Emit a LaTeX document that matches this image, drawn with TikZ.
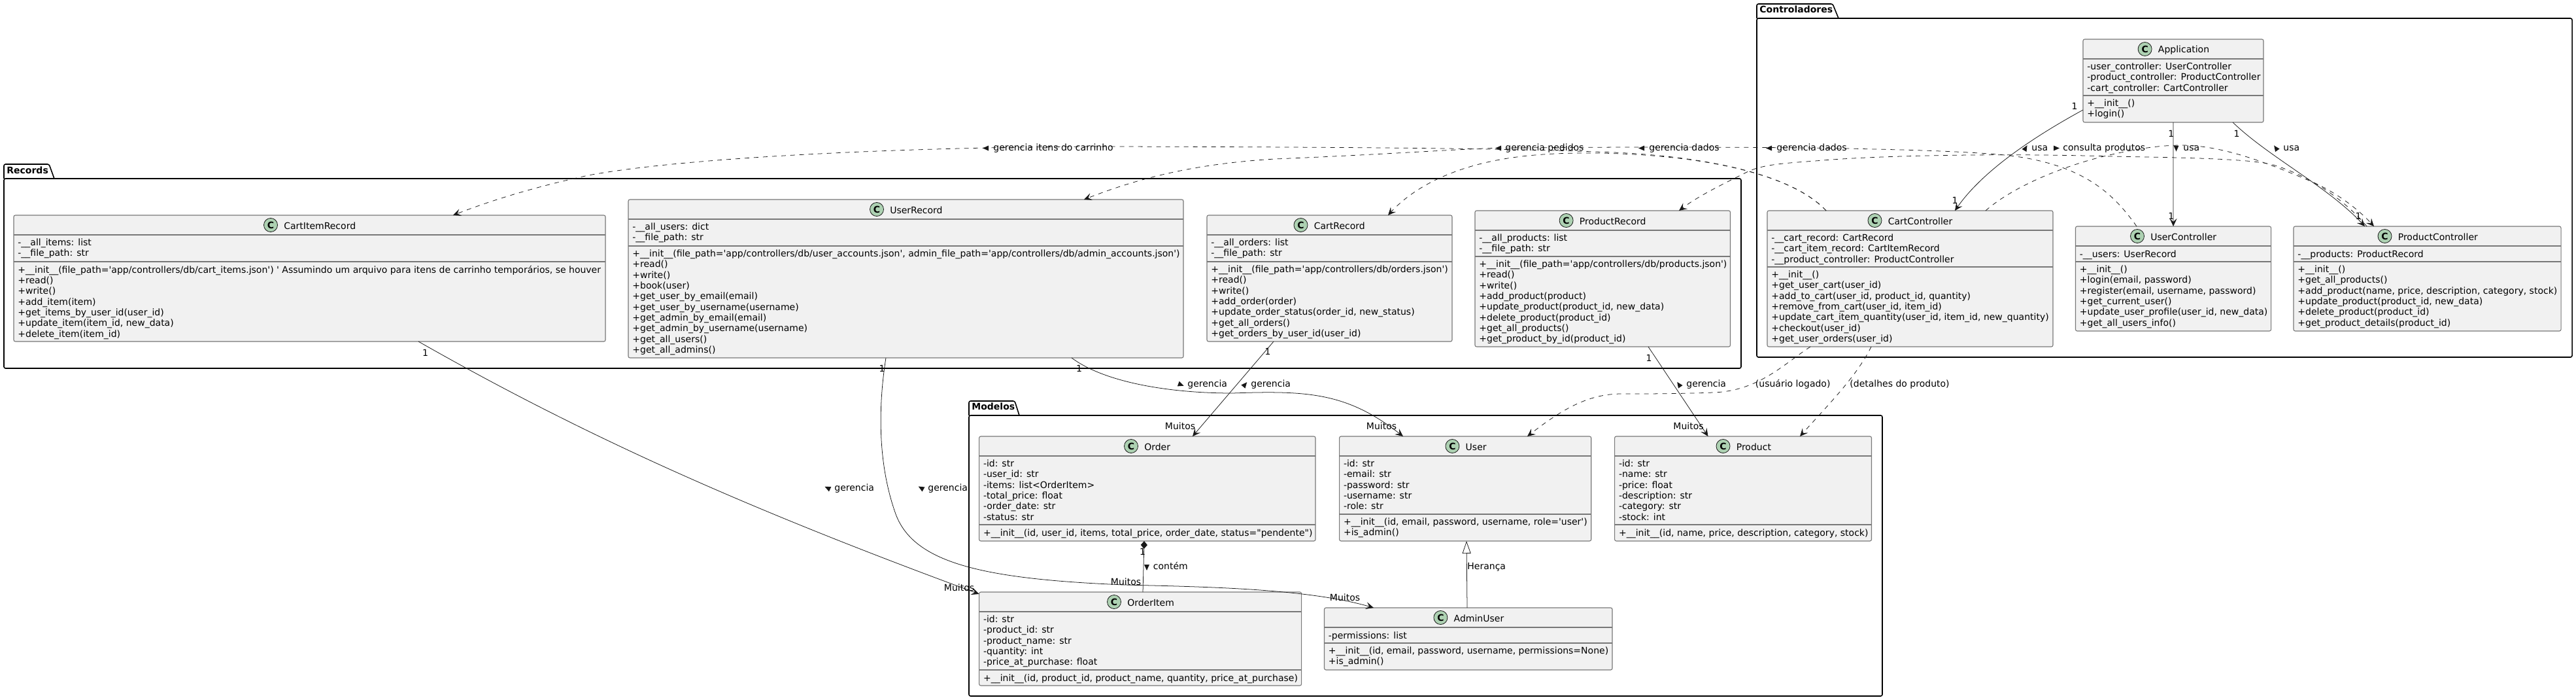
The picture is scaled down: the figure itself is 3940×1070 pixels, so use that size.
\documentclass[tikz,border=0pt]{standalone}
\usepackage{fontspec}
\usepackage{tikz}
\usetikzlibrary{arrows.meta, positioning, fit}
\newfontfamily\umlfont{DejaVu Sans}
\newcommand{\umltext}{\umlfont\fontsize{7}{8.15}\selectfont}
\newcommand{\umlbold}{\umlfont\bfseries\fontsize{7}{8.15}\selectfont}
\definecolor{classfill}{RGB}{241, 241, 241}
\definecolor{classborder}{RGB}{120, 120, 120}
\definecolor{circlefill}{RGB}{173, 209, 178}
\definecolor{edgecolor}{RGB}{24, 24, 24}
\tikzset{
    packagebox/.style={draw=black, line width=0.8pt, rectangle, rounded corners=1.25pt, inner sep=0pt, outer sep=0pt},
    packagetab/.style={draw=black, line width=0.8pt, rounded corners=1.25pt},
    packagename/.style={font=\umlbold, anchor=west, inner sep=0pt, text height=5.4pt, text depth=1.6pt},
    classbox/.style={draw=classborder, line width=0.55pt, fill=classfill, rectangle, rounded corners=1.25pt, inner sep=0pt, outer sep=0pt},
    classrule/.style={draw=classborder, line width=0.55pt},
    classcircle/.style={draw=edgecolor, line width=0.4pt, fill=circlefill, circle, minimum size=10.5pt, inner sep=0pt, font=\umlbold},
    classname/.style={font=\umltext, inner sep=0pt, text height=6.5pt, text depth=0.5pt},
    classtext/.style={font=\umltext, anchor=north west, align=left, inner sep=0pt, execute at begin node=\strut},
    edgelabel/.style={font=\umltext, anchor=west, inner sep=0pt, text height=5.4pt, text depth=1.6pt},
    multlabel/.style={font=\umltext, inner sep=0pt},
    usesline/.style={draw=edgecolor, line width=0.38pt, -{Stealth[length=6pt, width=5.5pt, inset=2.5pt]}},
    depline/.style={usesline, dash pattern=on 3.5pt off 3.5pt},
    pics/dirmark/.style={code={\fill[edgecolor] (5,0) -- (-4,-4) -- (-4,4) -- cycle;}}
}
\begin{document}
\begin{tikzpicture}[x=0.5pt, y=-0.5pt]
    \useasboundingbox (0,0) rectangle (3940,1070);

    % Packages
    \node[packagebox, fit={(6,273) (2663,563)}] (records) {};
    \draw[packagetab] (records.north west) -- ++(0,-22) -- ++(69,0) -- (83,273);
    \node[packagename] (recordsname) at (10,262) {Records};

    \node[packagebox, fit={(2687,28) (3934,546)}] (controllers) {};
    \draw[packagetab] (controllers.north west) -- ++(0,-22) -- ++(116,0) -- (2812,28);
    \node[packagename] (controllersname) at (2691,16) {Controladores};

    \node[packagebox, fit={(1482,635) (2879,1064)}] (models) {};
    \draw[packagetab] (models.north west) -- ++(0,-22) -- ++(70,0) -- (1559,635);
    \node[packagename] (modelsname) at (1486,623) {Modelos};

    % CartItemRecord
    \node[classbox, fit={(21,329) (926,522)}] (cartitem) {};
    \draw[classrule] (cartitem.west |- 0,359) -- (cartitem.east |- 0,359) (cartitem.west |- 0,400) -- (cartitem.east |- 0,400);
    \node[classcircle] (cartitemicon) at (414,344) {C};
    \node[classname, right=4.5pt of cartitemicon] (cartitemname) {CartItemRecord};
    \node[classtext] (cartitemattrs) at (27,364.6) {-\_\_all\_items: list\\-\_\_file\_path: str};
    \node[classtext] (cartitemops) at (27,405.6) {+\_\_init\_\_(file\_path='app/controllers/db/cart\_items.json') ' Assumindo um arquivo para itens de carrinho temporários, se houver\\+read()\\+write()\\+add\_item(item)\\+get\_items\_by\_user\_id(user\_id)\\+update\_item(item\_id, new\_data)\\+delete\_item(item\_id)};

    % UserRecord
    \node[classbox, fit={(961,305) (1810,547)}] (userrecord) {};
    \draw[classrule] (userrecord.west |- 0,335) -- (userrecord.east |- 0,335) (userrecord.west |- 0,376) -- (userrecord.east |- 0,376);
    \node[classcircle] (userrecordicon) at (1341,320) {C};
    \node[classname, right=4.5pt of userrecordicon] (userrecordname) {UserRecord};
    \node[classtext] (userrecordattrs) at (967,340.6) {-\_\_all\_users: dict\\-\_\_file\_path: str};
    \node[classtext] (userrecordops) at (967,381.6) {+\_\_init\_\_(file\_path='app/controllers/db/user\_accounts.json', admin\_file\_path='app/controllers/db/admin\_accounts.json')\\+read()\\+write()\\+book(user)\\+get\_user\_by\_email(email)\\+get\_user\_by\_username(username)\\+get\_admin\_by\_email(email)\\+get\_admin\_by\_username(username)\\+get\_all\_users()\\+get\_all\_admins()};

    % CartRecord
    \node[classbox, fit={(1846,329) (2221,522)}] (cartrecord) {};
    \draw[classrule] (cartrecord.west |- 0,359) -- (cartrecord.east |- 0,359) (cartrecord.west |- 0,400) -- (cartrecord.east |- 0,400);
    \node[classcircle] (cartrecordicon) at (1989.5,344) {C};
    \node[classname, right=4.5pt of cartrecordicon] (cartrecordname) {CartRecord};
    \node[classtext] (cartrecordattrs) at (1852,364.6) {-\_\_all\_orders: list\\-\_\_file\_path: str};
    \node[classtext] (cartrecordops) at (1852,405.6) {+\_\_init\_\_(file\_path='app/controllers/db/orders.json')\\+read()\\+write()\\+add\_order(order)\\+update\_order\_status(order\_id, new\_status)\\+get\_all\_orders()\\+get\_orders\_by\_user\_id(user\_id)};

    % ProductRecord
    \node[classbox, fit={(2256,322) (2646.5,530)}] (productrecord) {};
    \draw[classrule] (productrecord.west |- 0,352) -- (productrecord.east |- 0,352) (productrecord.west |- 0,392) -- (productrecord.east |- 0,392);
    \node[classcircle] (productrecordicon) at (2395.6,337) {C};
    \node[classname, right=4.5pt of productrecordicon] (productrecordname) {ProductRecord};
    \node[classtext] (productrecordattrs) at (2262,357.6) {-\_\_all\_products: list\\-\_\_file\_path: str};
    \node[classtext] (productrecordops) at (2262,397.6) {+\_\_init\_\_(file\_path='app/controllers/db/products.json')\\+read()\\+write()\\+add\_product(product)\\+update\_product(product\_id, new\_data)\\+delete\_product(product\_id)\\+get\_all\_products()\\+get\_product\_by\_id(product\_id)};

    % Application
    \node[classbox, fit={(3186,60) (3462,187)}] (application) {};
    \draw[classrule] (application.west |- 0,90) -- (application.east |- 0,90) (application.west |- 0,146) -- (application.east |- 0,146);
    \node[classcircle] (applicationicon) at (3280.6,75) {C};
    \node[classname, right=4.5pt of applicationicon] (applicationname) {Application};
    \node[classtext] (applicationattrs) at (3192,95.6) {-user\_controller: UserController\\-product\_controller: ProductController\\-cart\_controller: CartController};
    \node[classtext] (applicationops) at (3192,151.6) {+\_\_init\_\_()\\+login()};

    % CartController
    \node[classbox, fit={(2703,322) (3140,530)}] (cartcontroller) {};
    \draw[classrule] (cartcontroller.west |- 0,352) -- (cartcontroller.east |- 0,352) (cartcontroller.west |- 0,408) -- (cartcontroller.east |- 0,408);
    \node[classcircle] (cartcontrollericon) at (2867.5,337) {C};
    \node[classname, right=4.5pt of cartcontrollericon] (cartcontrollername) {CartController};
    \node[classtext] (cartcontrollerattrs) at (2709,357.6) {-\_\_cart\_record: CartRecord\\-\_\_cart\_item\_record: CartItemRecord\\-\_\_product\_controller: ProductController};
    \node[classtext] (cartcontrollerops) at (2709,413.6) {+\_\_init\_\_()\\+get\_user\_cart(user\_id)\\+add\_to\_cart(user\_id, product\_id, quantity)\\+remove\_from\_cart(user\_id, item\_id)\\+update\_cart\_item\_quantity(user\_id, item\_id, new\_quantity)\\+checkout(user\_id)\\+get\_user\_orders(user\_id)};

    % UserController
    \node[classbox, fit={(3174.5,346) (3473.6,506)}] (usercontroller) {};
    \draw[classrule] (usercontroller.west |- 0,376) -- (usercontroller.east |- 0,376) (usercontroller.west |- 0,400) -- (usercontroller.east |- 0,400);
    \node[classcircle] (usercontrollericon) at (3269,361) {C};
    \node[classname, right=4.5pt of usercontrollericon] (usercontrollername) {UserController};
    \node[classtext] (usercontrollerattrs) at (3180.5,381.6) {-\_\_users: UserRecord};
    \node[classtext] (usercontrollerops) at (3180.5,405.6) {+\_\_init\_\_()\\+login(email, password)\\+register(email, username, password)\\+get\_current\_user()\\+update\_user\_profile(user\_id, new\_data)\\+get\_all\_users\_info()};

    % ProductController
    \node[classbox, fit={(3508,346) (3917,506)}] (productcontroller) {};
    \draw[classrule] (productcontroller.west |- 0,376) -- (productcontroller.east |- 0,376) (productcontroller.west |- 0,400) -- (productcontroller.east |- 0,400);
    \node[classcircle] (productcontrollericon) at (3647.5,361) {C};
    \node[classname, right=4.5pt of productcontrollericon] (productcontrollername) {ProductController};
    \node[classtext] (productcontrollerattrs) at (3514,381.6) {-\_\_products: ProductRecord};
    \node[classtext] (productcontrollerops) at (3514,405.6) {+\_\_init\_\_()\\+get\_all\_products()\\+add\_product(name, price, description, category, stock)\\+update\_product(product\_id, new\_data)\\+delete\_product(product\_id)\\+get\_product\_details(product\_id)};

    % Order
    \node[classbox, fit={(1497.6,667) (2012,827)}] (order) {};
    \draw[classrule] (order.west |- 0,697) -- (order.east |- 0,697) (order.west |- 0,802) -- (order.east |- 0,802);
    \node[classcircle] (ordericon) at (1730,682) {C};
    \node[classname, right=4.5pt of ordericon] (ordername) {Order};
    \node[classtext] (orderattrs) at (1503.6,702.6) {-id: str\\-user\_id: str\\-items: list<OrderItem>\\-total\_price: float\\-order\_date: str\\-status: str};
    \node[classtext] (orderops) at (1503.6,807.6) {+\_\_init\_\_(id, user\_id, items, total\_price, order\_date, status="pendente")};

    % User
    \node[classbox, fit={(2048.6,667) (2433.7,827)}] (user) {};
    \draw[classrule] (user.west |- 0,697) -- (user.east |- 0,697) (user.west |- 0,786) -- (user.east |- 0,786);
    \node[classcircle] (usericon) at (2221.4,682) {C};
    \node[classname, right=4.5pt of usericon] (username) {User};
    \node[classtext] (userattrs) at (2054.6,702.6) {-id: str\\-email: str\\-password: str\\-username: str\\-role: str};
    \node[classtext] (userops) at (2054.6,791.6) {+\_\_init\_\_(id, email, password, username, role='user')\\+is\_admin()};

    % Product
    \node[classbox, fit={(2469.6,667) (2862.5,827)}] (product) {};
    \draw[classrule] (product.west |- 0,697) -- (product.east |- 0,697) (product.west |- 0,802) -- (product.east |- 0,802);
    \node[classcircle] (producticon) at (2635.5,682) {C};
    \node[classname, right=4.5pt of producticon] (productname) {Product};
    \node[classtext] (productattrs) at (2475.6,702.6) {-id: str\\-name: str\\-price: float\\-description: str\\-category: str\\-stock: int};
    \node[classtext] (productops) at (2475.6,807.6) {+\_\_init\_\_(id, name, price, description, category, stock)};

    % OrderItem
    \node[classbox, fit={(1497.6,905) (1990.6,1048)}] (orderitem) {};
    \draw[classrule] (orderitem.west |- 0,935) -- (orderitem.east |- 0,935) (orderitem.west |- 0,1024) -- (orderitem.east |- 0,1024);
    \node[classcircle] (orderitemicon) at (1704,920) {C};
    \node[classname, right=4.5pt of orderitemicon] (orderitemname) {OrderItem};
    \node[classtext] (orderitemattrs) at (1503.6,940.6) {-id: str\\-product\_id: str\\-product\_name: str\\-quantity: int\\-price\_at\_purchase: float};
    \node[classtext] (orderitemops) at (1503.6,1029.6) {+\_\_init\_\_(id, product\_id, product\_name, quantity, price\_at\_purchase)};

    % AdminUser
    \node[classbox, fit={(2025.5,929) (2466,1024)}] (adminuser) {};
    \draw[classrule] (adminuser.west |- 0,959) -- (adminuser.east |- 0,959) (adminuser.west |- 0,983) -- (adminuser.east |- 0,983);
    \node[classcircle] (adminusericon) at (2203.4,944) {C};
    \node[classname, right=4.5pt of adminusericon] (adminusername) {AdminUser};
    \node[classtext] (adminuserattrs) at (2031.5,964.6) {-permissions: list};
    \node[classtext] (adminuserops) at (2031.5,988.6) {+\_\_init\_\_(id, email, password, username, permissions=None)\\+is\_admin()};

    % Controllers to records
    \draw[depline] (cartcontroller.north -| 2793,0) .. controls (2740,265) and (2600,236) .. (2440,232) .. controls (2300,227) and (2100,225) .. (1700,224) .. controls (1400,224) and (1050,240) .. (900,268) .. controls (830,283) and (760,303) .. (cartitem.north -| 693,0);
    \draw[depline] (cartcontroller.north -| 2793,0) .. controls (2740,265) and (2600,236) .. (2440,234) .. controls (2340,233) and (2265,243) .. (2200,273) .. controls (2170,287) and (2145,305) .. (cartrecord.north -| 2123,0);
    \draw[depline] (usercontroller.north -| 3268,0) .. controls (3235,300) and (3190,250) .. (3066,237) .. controls (3000,231) and (2920,229) .. (2800,226.5) .. controls (2600,224) and (2400,225) .. (2284,226.5) .. controls (2230,228) and (2100,237) .. (1950,243) .. controls (1850,249) and (1760,265) .. (userrecord.north -| 1658,0);
    \draw[depline] (productcontroller.north -| 3620,0) .. controls (3590,310) and (3540,272) .. (3480,253) .. controls (3450,243) and (3350,241) .. (3228,239) .. controls (3100,235) and (2900,236) .. (2789,245) .. controls (2740,249) and (2700,250) .. (2674,262) .. controls (2640,279) and (2600,298) .. (productrecord.north -| 2568,0);
    \draw[depline] (cartcontroller.north -| 3037,0) .. controls (3085,280) and (3170,250) .. (3222,238) .. controls (3260,229) and (3300,222) .. (3336,222) .. controls (3400,222) and (3470,250) .. (3534,277) .. controls (3570,292) and (3605,318) .. (productcontroller.north -| 3631,0);

    % Controllers to models
    \draw[depline] (cartcontroller.south -| 2769,0) .. controls (2730,555) and (2690,598) .. (2620,600) .. controls (2570,602) and (2520,602) .. (2480,602) .. controls (2430,602) and (2390,625) .. (user.north -| 2336,0);
    \draw[depline] (cartcontroller.south -| 2862,0) .. controls (2840,575) and (2795,620) .. (product.north -| 2753,0);

    % Application
    \draw[usesline] (application.west |- 0,168) .. controls (3100,215) and (3030,265) .. (cartcontroller.north -| 2990,0);
    \draw[usesline] (application.south) -- (usercontroller.north);
    \draw[usesline] (application.south -| 3415,0) .. controls (3470,240) and (3560,285) .. (productcontroller.north -| 3617,0);

    % Records to models
    \draw[usesline] (cartitem.south -| 640,0) .. controls (900,670) and (1150,780) .. (orderitem.north west |- 0,908);
    \draw[usesline] (userrecord.south -| 1355,0) .. controls (1345,610) and (1340,700) .. (1369,783) .. controls (1395,860) and (1500,885) .. (1719,894) .. controls (1850,897) and (2000,900) .. (adminuser.north -| 2101,0);
    \draw[usesline] (cartrecord.south -| 1948,0) -- (order.north -| 1824,0);
    \draw[usesline] (userrecord.south -| 1639,0) .. controls (1690,585) and (1790,601) .. (1885,601) .. controls (2000,597) and (2060,600) .. (user.north -| 2146,0);
    \draw[usesline] (productrecord.south -| 2521,0) -- (product.north -| 2612.5,0);

    % Composition and inheritance
    \draw[draw=edgecolor, line width=0.38pt, -{Diamond[length=6pt, width=5pt]}] (orderitem.north -| 1748,0) -- (order.south -| 1750,0);
    \draw[draw=edgecolor, line width=0.38pt, -{Triangle[open, length=9.5pt, width=6.5pt, fill=white]}] (adminuser.north -| 2244,0) -- (user.south -| 2243,0);

    % Edge labels
    \node[edgelabel] (itemslabel) at (1519,226.5) {gerencia itens do carrinho};
    \pic[rotate=180] at (1508,226.5) {dirmark};
    \node[edgelabel] (orderslabel) at (2302,226.5) {gerencia pedidos};
    \pic[rotate=180] at (2292,226.5) {dirmark};
    \node[edgelabel] (datalabela) at (2522,226.5) {gerencia dados};
    \pic[rotate=180] at (2511,226.5) {dirmark};
    \node[edgelabel] (datalabelb) at (2717,226.5) {gerencia dados};
    \pic[rotate=180] at (2706,226.5) {dirmark};
    \node[edgelabel] (usalabela) at (3107,226.5) {usa};
    \pic[rotate=60] at (3098,226.5) {dirmark};
    \node[edgelabel] (consultlabel) at (3155,226.5) {consulta produtos};
    \pic at (3145,226.5) {dirmark};
    \node[edgelabel] (usalabelb) at (3339,226.5) {usa};
    \pic[rotate=270] at (3328.5,226.5) {dirmark};
    \node[edgelabel] (usalabelc) at (3492,226.5) {usa};
    \pic[rotate=125] at (3481,226.5) {dirmark};
    \node[edgelabel] (managelabela) at (1816,588) {gerencia};
    \pic[rotate=-20] at (1806,588) {dirmark};
    \node[edgelabel] (managelabelb) at (1913,588) {gerencia};
    \pic[rotate=50] at (1904,588) {dirmark};
    \node[edgelabel] (managelabelc) at (2579,588) {gerencia};
    \pic[rotate=124] at (2568,588) {dirmark};
    \node[edgelabel] (loggedlabel) at (2684.5,588) {(usuário logado)};
    \node[edgelabel] (detailslabel) at (2829,588) {(detalhes do produto)};
    \node[edgelabel] (managelabeld) at (1276,747) {gerencia};
    \pic[rotate=155] at (1266,746) {dirmark};
    \node[edgelabel] (managelabele) at (1419,747) {gerencia};
    \pic[rotate=150] at (1409,746) {dirmark};
    \node[edgelabel] (containslabel) at (1763.5,867) {contém};
    \pic[rotate=270] at (1754,867) {dirmark};
    \node[edgelabel] (inheritlabel) at (2244,867) {Herança};

    % Multiplicities
    \node[multlabel] (multa) at (3173,162) {1};
    \node[multlabel] (multb) at (2990,306) {1};
    \node[multlabel] (multc) at (3320.7,204) {1};
    \node[multlabel] (multd) at (3320.7,330) {1};
    \node[multlabel] (multe) at (3421,204) {1};
    \node[multlabel] (multf) at (3607,330) {1};
    \node[multlabel] (multg) at (650.5,539) {1};
    \node[multlabel] (multh) at (1349,563) {1};
    \node[multlabel] (multi) at (1650.6,563) {1};
    \node[multlabel] (multj) at (1939,537) {1};
    \node[multlabel] (multk) at (2522,547) {1};
    \node[multlabel] (multl) at (1747.6,843) {1};
    \node[multlabel] (manya) at (1467,898) {Muitos};
    \node[multlabel] (manyb) at (1722,889) {Muitos};
    \node[multlabel] (manyc) at (2057,913) {Muitos};
    \node[multlabel] (manyd) at (1805,651) {Muitos};
    \node[multlabel] (manye) at (2113,651) {Muitos};
    \node[multlabel] (manyf) at (2582.5,651) {Muitos};
\end{tikzpicture}
\end{document}
